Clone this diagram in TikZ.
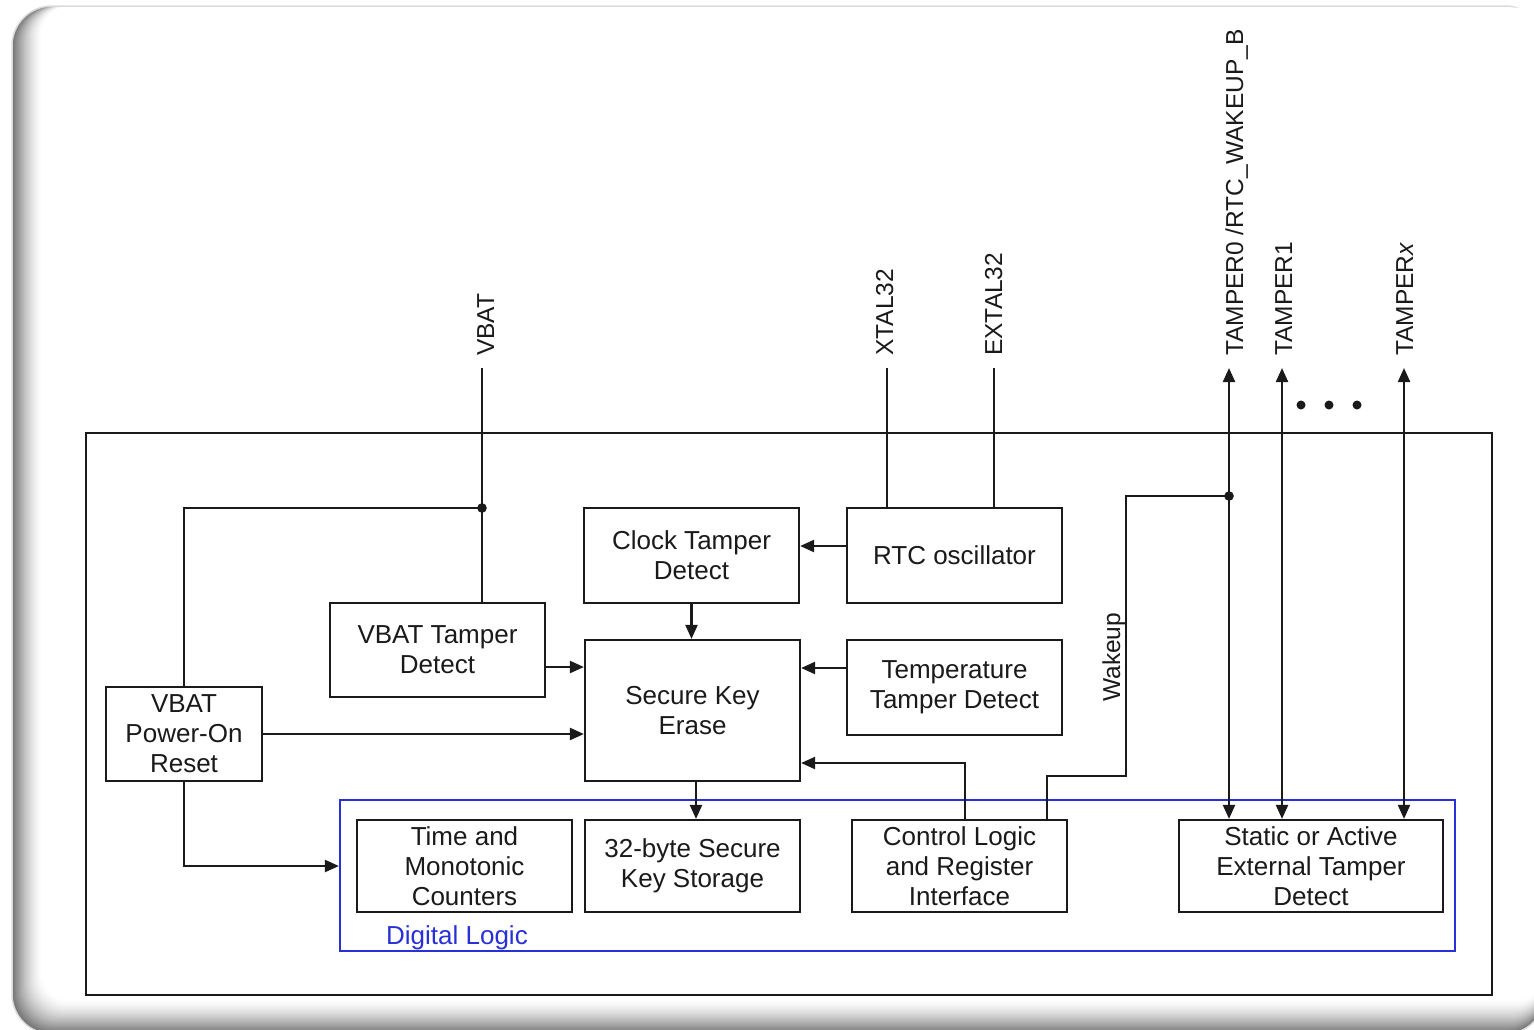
\documentclass[tikz,border=0pt]{standalone}
\usepackage{fontspec}
\setmainfont{Liberation Sans}
\usetikzlibrary{arrows.meta}
\definecolor{ink}{HTML}{1A1A1A}
\definecolor{logicblue}{RGB}{40,48,215}
\newcommand\boxfont{\fontsize{26}{30}\selectfont}
\newcommand\pinfont{\fontsize{24.5}{28}\selectfont}
\tikzset{
  blk/.style={draw=ink, line width=2.2pt, inner sep=0pt, align=center,
              font=\boxfont, text=ink},
  wire/.style={draw=ink, line width=2.2pt},
  arr/.style={wire, -{Triangle[length=14pt,width=12pt]}},
  biarr/.style={wire, {Triangle[length=14pt,width=12pt]}-{Triangle[length=14pt,width=12pt]}},
  pinlabel/.style={rotate=90, anchor=base west, inner sep=0pt, font=\pinfont, text=ink},
  junction/.style={fill=ink},
}
\begin{document}
\begin{tikzpicture}[x=1pt,y=-1pt]
\useasboundingbox (0,0) rectangle (1534,1029);

% embossed card behind the diagram
\begin{scope}
  \clip (0,0) rectangle (1534,1029);
  \fill[white] (0,0) rectangle (1534,1029);
  \foreach \i in {0,...,32}{
    \pgfmathsetmacro\t{\i/32}
    \pgfmathsetmacro\c{55*(1-\t)^1.5}
    \pgfmathsetmacro\l{12+30*\t}
    \pgfmathsetmacro\b{1034-34*\t}
    \pgfmathsetmacro\r{40-12*\t}
    \fill[black!\c, rounded corners=\r pt] (\l,6) rectangle (1545,\b);
  }
  \draw[black!14, line width=1.5pt, rounded corners=40pt] (12,6) rectangle (1545,1034);
  \fill[white, rounded corners=28pt] (42,7.5) rectangle (1543,1000);
\end{scope}

% device outline and digital logic region
\node[draw=ink, line width=2.6pt, minimum width=1406pt, minimum height=562pt, inner sep=0pt] (chip) at (789,714) {};
\node[draw=logicblue, line width=2.2pt, minimum width=1115pt, minimum height=151pt, inner sep=0pt] (dl) at (897.5,875.5) {};
\node[anchor=base, inner sep=0pt, font=\boxfont, text=logicblue] (dltxt) at (457,944) {Digital Logic};

% function blocks
\node[blk, minimum width=215pt, minimum height=94pt] (vbtd) at (437.5,650) {VBAT Tamper\\Detect};
\node[blk, minimum width=156pt, minimum height=94pt] (por) at (184,734) {VBAT\\Power-On\\Reset};
\node[blk, minimum width=215pt, minimum height=95pt] (ctd) at (691.5,555.5) {Clock Tamper\\Detect};
\node[blk, minimum width=215pt, minimum height=95pt] (rtc) at (954.5,555.5) {RTC oscillator};
\node[blk, minimum width=215pt, minimum height=141pt] (ske) at (692.5,710.5) {Secure Key\\Erase};
\node[blk, minimum width=215pt, minimum height=95pt] (ttd) at (954.5,687.5) {Temperature\\Tamper Detect};
\node[blk, minimum width=215pt, minimum height=92pt] (tmc) at (464.5,866) {Time and\\Monotonic\\Counters};
\node[blk, minimum width=215pt, minimum height=92pt] (ksk) at (692.5,866) {32-byte Secure\\Key Storage};
\node[blk, minimum width=215pt, minimum height=92pt] (ctl) at (959.5,866) {Control Logic\\and Register\\Interface};
\node[blk, minimum width=264pt, minimum height=92pt] (ext) at (1311,866) {Static or Active\\External Tamper\\Detect};

% pin ends, junctions and routing points
\coordinate (pvbat)  at (482,368);
\coordinate (pxtal)  at (887,368);
\coordinate (pextal) at (994,368);
\coordinate (pt0)    at (1229,368);
\coordinate (pt1)    at (1282,368);
\coordinate (ptx)    at (1404,368);
\coordinate (jv)     at (482,508);
\coordinate (jw)     at (1229,496);
\coordinate (yclk)   at (0,546);
\coordinate (yvt)    at (0,667);
\coordinate (ytemp)  at (0,668);
\coordinate (yctl)   at (0,763);
\coordinate (xctl)   at (965,0);
\coordinate (xwk)    at (1047,0);
\coordinate (wkbend) at (1126,776);
\coordinate (xkey)   at (696,0);

% pin labels
\node[pinlabel] (lvbat)  at (494,356) {VBAT};
\node[pinlabel] (lxtal)  at (893,356) {XTAL32};
\node[pinlabel] (lextal) at (1002,356) {EXTAL32};
\node[pinlabel] (lt0)    at (1243,356) {TAMPER0 /RTC\_WAKEUP\_B};
\node[pinlabel] (lt1)    at (1292,356) {TAMPER1};
\node[pinlabel] (ltx)    at (1413,356) {TAMPER\textit{x}};
\node[pinlabel] (lwk)    at (1120,702) {Wakeup};

% supply and clock connections
\draw[wire] (pvbat) -- (pvbat |- vbtd.north);
\draw[wire] (jv) -| (por.north);
\fill[junction] (jv) circle[radius=4.8];
\draw[wire] (pxtal) -- (pxtal |- rtc.north);
\draw[wire] (pextal) -- (pextal |- rtc.north);

% tamper sources into the key eraser
\draw[arr] (vbtd.east |- yvt) -- (ske.west |- yvt);
\draw[arr] (por.east) -- (ske.west |- por.east);
\draw[arr] (por.south) |- (dl.west |- tmc.west);
\draw[arr] (ctd.south) -- (ctd.south |- ske.north);
\draw[arr] (rtc.west |- yclk) -- (ctd.east |- yclk);
\draw[arr] (ttd.west |- ytemp) -- (ske.east |- ytemp);
\draw[arr] (ctl.north -| xctl) |- (ske.east |- yctl);
\draw[arr] (ske.south -| xkey) -- (ksk.north -| xkey);

% wakeup path and external tamper pins
\draw[wire] (ctl.north -| xwk) |- (wkbend) |- (jw);
\draw[biarr] (pt0) -- (pt0 |- ext.north);
\draw[biarr] (pt1) -- (pt1 |- ext.north);
\draw[biarr] (ptx) -- (ptx |- ext.north);
\fill[junction] (jw) circle[radius=4.8];

% ellipsis between the tamper pins
\coordinate (e1) at (1301,405);
\coordinate (e2) at (1329,405);
\coordinate (e3) at (1357,405);
\foreach \e in {e1,e2,e3} \fill[junction] (\e) circle[radius=4.5];
\end{tikzpicture}
\end{document}
